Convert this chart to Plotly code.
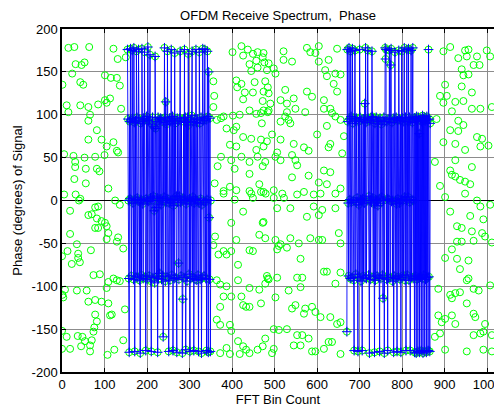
import plotly.graph_objects as go

# ---- data ----
# noise bins (bin, phase in degrees) outside the occupied carriers
noise_left = [
    (15,178),(29,179),(64,179),(121,177),(131,165),(150,167),(1,135),(24,148),(32,159),(46,158),
    (53,161),(43,138),(50,135),(101,146),(115,143),(129,143),(136,134),(113,119),(101,117),(105,114),
    (85,112),(11,111),(15,103),(43,111),(62,109),(66,100),(62,93),(139,107),(82,82),(62,71),
    (93,71),(121,68),(129,58),(105,63),(132,56),(5,54),(27,52),(53,50),(78,51),(100,53),
    (31,45),(31,39),(56,37),(82,37),(88,34),(29,25),(56,20),(109,14),(5,7),(32,7),
    (43,2),(40,0),(19,-12),(78,-8),(85,-7),(125,0),(136,-5),(62,-17),(70,-16),(82,-21),
    (93,-24),(101,-26),(78,-32),(105,-30),(85,-32),(109,-38),(105,-45),(19,-39),(35,-51),(132,-43),
    (144,-56),(0,-65),(13,-59),(38,-62),(68,-58),(38,-67),(23,-74),(42,-72),(129,-48),(89,-86),
    (74,-87),(109,-95),(121,-91),(129,-93),(136,-94),(7,-104),(1,-110),(3,-113),(35,-105),(58,-105),
    (105,-102),(62,-118),(78,-116),(93,-118),(109,-120),(148,-127),(78,-133),(82,-141),(117,-133),(113,-134),
    (76,-148),(74,-153),(0,-152),(11,-159),(37,-158),(48,-159),(54,-164),(70,-163),(45,-170),(66,-169),
    (66,-176),(0,-173),(19,-173),(107,-180),(123,-174),(144,-163),
]
noise_mid = [
    (356,139),(358,122),(356,109),(380,98),(374,96),(364,94),(387,84),(404,82),(410,86),(401,173),
    (422,180),(437,176),(449,171),(460,173),(472,167),(441,159),(457,163),(426,169),(445,151),(460,155),
    (476,161),(410,140),(422,136),(412,132),(453,138),(430,126),(449,126),(472,116),(484,132),(426,118),
    (457,101),(418,100),(441,105),(468,102),(484,103),(402,99),(426,74),(395,65),(410,63),(445,72),
    (457,59),(468,71),(422,51),(441,45),(460,51),(472,40),(398,47),(406,37),(441,31),(464,19),
    (374,51),(366,40),(359,20),(380,8),(395,16),(410,12),(445,8),(468,10),
    (474,172),(486,160),(482,152),(498,154),(502,148),(478,139),(474,127),(486,125),(490,113),(474,105),
    (486,105),(521,174),(521,164),(541,162),(576,178),(584,173),(596,172),(604,180),(604,162),(627,164),
    (647,177),(619,152),(623,145),(643,148),(655,147),(647,127),(639,136),(525,129),(514,117),(529,113),
    (545,119),(549,107),(576,127),(588,121),(616,117),(616,107),(631,107),(635,102),(655,94),(643,98),
    (572,103),(529,103),(525,98),(533,94),(537,90),(514,92),(470,90),(494,77),(482,69),(474,63),
    (514,71),(545,66),(600,77),(623,87),(631,66),(627,62),(663,75),(569,62),(580,58),(506,56),
    (502,51),(514,47),(541,53),(549,47),(553,41),(478,45),(659,55),(616,35),(631,33),(541,27),
    (580,29),(604,21),(623,19),(655,14),(498,12),(518,8),(569,10),(608,8),(474,10),
    (479,8),(498,3),(522,3),(553,7),(592,7),(643,8),(506,-9),(537,-9),(576,-19),(592,-7),
    (612,-11),(604,-17),(643,-9),(474,-25),(478,-44),(502,-46),(510,-53),(514,-51),(529,-55),(537,-44),
    (557,-50),(584,-44),(604,-46),(612,-46),(651,-38),(655,-50),(506,-57),(561,-68),(482,-88),(486,-92),
    (478,-97),(506,-90),(553,-90),(565,-90),(561,-101),(616,-83),(623,-83),(643,-97),(655,-84),(533,-105),
    (502,-113),(549,-122),(541,-126),(572,-126),(588,-124),(569,-132),(596,-130),(608,-136),(631,-136),(655,-142),
    (647,-144),(510,-151),(529,-150),(478,-161),(498,-150),(553,-157),(565,-157),(561,-169),(580,-161),(627,-165),
    (635,-165),(498,-173),(494,-178),(545,-169),(596,-176),(588,-176),(616,-173),(655,-179),
    (360,-42),(356,-52),(368,-63),(380,-59),(387,-63),(398,-59),(414,-75),(410,-46),(441,-58),(449,-59),
    (472,-26),(464,-40),(398,-26),(406,1),(426,-13),(449,3),(380,11),(441,11),(364,-93),(372,-98),
    (387,-100),(380,-112),(398,-112),(414,-93),(422,-112),(441,-102),(433,-124),(426,-122),(441,-124),(468,-120),
    (464,-104),(484,-91),(364,-139),(372,-145),(395,-145),(398,-152),(387,-172),(414,-164),(426,-170),(433,-174),
    (441,-178),(418,-179),(372,-178),(395,-179),(460,-174),(472,-170),(372,-124),
]
noise_right = [
    (897,174),(913,179),(932,166),(948,175),(956,176),(952,168),(976,168),(968,158),(982,158),(999,175),
    (1007,168),(940,153),(944,146),(956,147),(940,133),(901,135),(889,122),(905,122),(897,114),(925,115),
    (944,116),(964,126),(964,107),(984,107),(1011,109),(917,104),(881,95),(932,93),(944,88),(913,82),
    (932,81),(976,74),(988,72),(984,63),(1003,64),(925,66),(948,59),(897,68),(877,45),(925,47),
    (964,39),(913,35),(925,28),(936,24),(948,22),(960,19),(917,30),(889,17),(948,8),(901,4),
    (976,0),(984,-7),(1007,-5),(913,-13),(960,-18),(929,-30),(940,-32),(964,-36),(991,-22),(988,-38),
    (995,-42),(1011,-49),(929,-48),(940,-48),(968,-47),(917,-57),(901,-67),(929,-68),(956,-70),(936,-80),
    (956,-91),(952,-93),(968,-103),(980,-105),(1007,-99),(885,-103),(913,-110),(925,-108),(917,-114),(936,-107),
    (952,-120),(885,-134),(901,-138),(893,-142),(917,-134),(925,-144),(968,-132),(972,-136),(995,-144),(877,-159),
    (889,-155),(968,-157),(984,-155),(991,-153),(1011,-157),(901,-174),(952,-176),(991,-174),(1011,-176),
]

# occupied carriers (phase in degrees)
block1_first_bin = 154
block1_phase = [
    176,95,0,-91,-177,92,2,177,94,-88,0,175,96,-3,-92,178,91,-176,1,93,
    -89,174,97,3,-90,0,176,95,-93,-2,-178,90,1,-87,177,92,-4,-91,96,0,
    173,94,-89,-175,2,98,-92,0,179,93,-1,-88,95,170,3,-94,-176,89,0,97,
    -90,5,86,-12,-96,168,84,-8,-89,92,3,-177,97,-91,0,94,-85,2,96,-5,
    -92,95,0,-88,-159,91,4,178,97,-94,115,-2,89,-89,174,2,93,-176,-3,96,
    -93,0,92,176,-87,1,98,-175,-6,94,-91,172,0,90,-90,5,-177,96,-2,93,
    -73,-92,5,96,174,-2,-88,92,0,-178,-115,3,95,-90,176,1,97,-174,-4,91,
    -94,97,0,171,88,-86,2,-176,94,-91,-1,99,174,-89,4,92,-175,-3,95,-92,
    1,176,91,-93,0,95,-87,-176,-3,173,90,-92,2,97,-178,-5,-90,177,93,0,
    -88,96,176,-2,-91,94,-175,1,174,98,-177,150,-20,-92,96,-176,0,
]
block2_first_bin = 670
block2_phase = [
    -153,176,92,-3,-88,178,95,1,-91,174,98,-2,-90,177,90,0,-93,-175,96,175,
    93,-86,-2,96,3,-90,-176,92,-5,-89,176,97,1,-94,94,0,-175,2,95,-88,
    95,-3,113,-90,178,91,-91,0,94,175,96,-87,5,-178,93,0,-92,97,-2,174,
    98,3,-89,95,-4,-177,90,-93,1,97,0,-88,92,-6,94,-90,2,-176,96,-3,
    -91,89,4,93,-87,-114,0,97,-178,92,178,165,176,-92,92,2,-175,95,-90,1,
    175,95,-90,158,177,-1,91,-94,0,96,-177,-88,94,173,0,-91,97,-4,-176,93,
    2,-89,175,95,-3,-92,93,-177,1,174,-90,96,0,-87,92,178,4,-93,97,-175,
    0,176,-87,92,4,177,-93,97,-2,-175,94,175,-89,1,91,178,-91,0,96,-177,
    96,-88,95,-178,98,-92,93,-176,97,-90,78,-177,94,-89,96,-175,92,-91,99,-178,
    95,-87,97,-176,93,-92,96,-177,98,-90,94,-175,176,-89,95,-176,90,
]

x_tick_values = [0, 100, 200, 300, 400, 500, 600, 700, 800, 900, 1000]
y_tick_values = [200, 150, 100, 50, 0, -50, -100, -150, -200]

title_text = "OFDM Receive Spectrum,  Phase"
x_label = "FFT Bin Count"
y_label = "Phase (degrees) of Signal"

# ---- build series ----
b1_bins = [block1_first_bin + i for i in range(len(block1_phase))]
b2_bins = [block2_first_bin + i for i in range(len(block2_phase))]

noise_all = noise_left + noise_mid + noise_right
green_x = [p[0] for p in noise_all] + b1_bins + b2_bins
green_y = [p[1] for p in noise_all] + block1_phase + block2_phase

blue_x = b1_bins + [None] + b2_bins
blue_y = block1_phase + [None] + block2_phase

FONT = "Liberation Sans, Arial, Helvetica, sans-serif"

fig = go.Figure()
fig.add_trace(go.Scatter(
    x=green_x, y=green_y, mode="markers",
    marker=dict(symbol="circle-open", size=7, color="#00ff00", line=dict(width=1, color="#00ff00")),
    hoverinfo="skip", showlegend=False,
))
fig.add_trace(go.Scatter(
    x=blue_x, y=blue_y, mode="lines+markers", connectgaps=False,
    line=dict(color="#0000ff", width=0.9),
    marker=dict(symbol="cross-thin-open", size=7, color="#0000ff", line=dict(width=1, color="#0000ff")),
    hoverinfo="skip", showlegend=False,
))

fig.update_layout(
    width=494, height=410,
    margin=dict(l=62, r=0, t=29, b=38, autoexpand=False),
    paper_bgcolor="white", plot_bgcolor="white",
    font=dict(family=FONT, size=13, color="black"),
    title=dict(text=title_text, x=0.5, xanchor="center", xref="paper",
               y=1 - 15 / 410, yanchor="middle", font=dict(size=13, family=FONT)),
)
fig.update_xaxes(
    range=[0, 1016], tickvals=x_tick_values, ticktext=[str(v) for v in x_tick_values],
    ticks="inside", ticklen=4, tickcolor="black", ticklabeloverflow="allow",
    showline=True, linecolor="black", linewidth=1.5, mirror="ticks",
    showgrid=True, gridcolor="#8c8c8c", gridwidth=1, zeroline=False,
    tickfont=dict(size=13, family=FONT), automargin=False,
    title=dict(text=x_label, font=dict(size=13, family=FONT), standoff=2),
)
fig.update_yaxes(
    range=[-200, 200], tickvals=y_tick_values, ticktext=[str(v) for v in y_tick_values],
    ticks="inside", ticklen=4, tickcolor="black",
    showline=True, linecolor="black", linewidth=1.5, mirror=False,
    showgrid=True, gridcolor="#8c8c8c", gridwidth=1,
    zeroline=True, zerolinecolor="black", zerolinewidth=1,
    tickfont=dict(size=13, family=FONT), automargin=False,
    title=dict(text=y_label, font=dict(size=13, family=FONT), standoff=6),
)

fig.write_html("out.html", config={"displayModeBar": False},
               post_script="document.body.style.margin='0';")
